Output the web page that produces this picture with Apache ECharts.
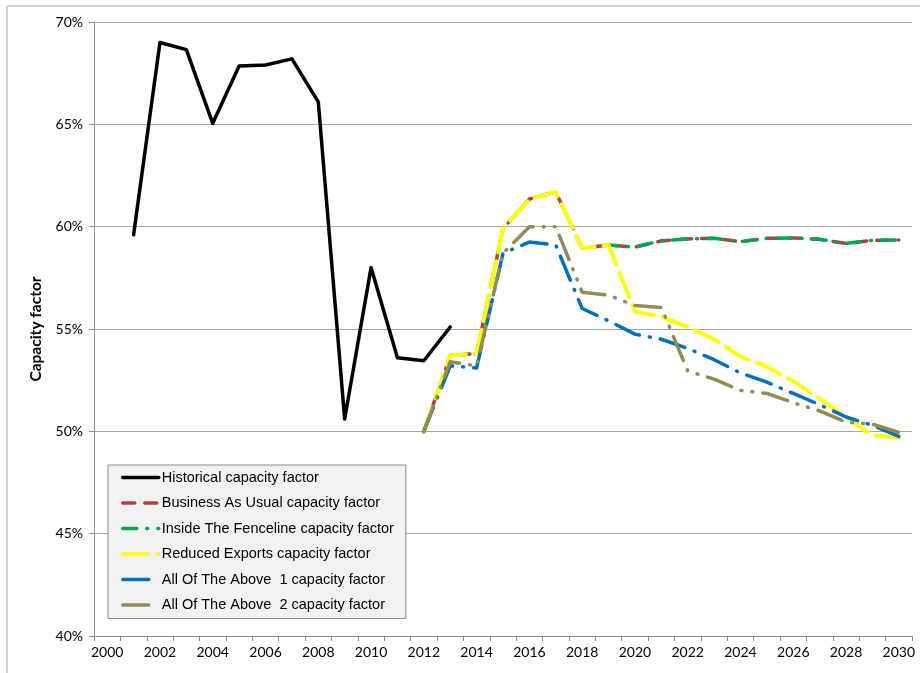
<!DOCTYPE html>
<html>
<head>
<meta charset="utf-8">
<script src="https://cdn.jsdelivr.net/npm/echarts@6/dist/echarts.min.js"></script>
<style>
  html, body { margin: 0; padding: 0; background: #fff; }
  #chart { width: 920px; height: 673px; }
</style>
</head>
<body>
<div id="chart"></div>
<script>
// years on the category axis
var years = [];
for (var y = 2000; y <= 2030; y++) years.push(String(y));

// values in percent, null where a series has no point
var historical = [null, 59.6, 69.0, 68.65, 65.05, 67.85, 67.9, 68.2, 66.1, 50.6, 58.0, 53.6, 53.45, 55.1,
  null, null, null, null, null, null, null, null, null, null, null, null, null, null, null, null, null];
var businessAsUsual = [null, null, null, null, null, null, null, null, null, null, null, null,
  50.0, 53.7, 53.8, 59.9, 61.35, 61.7, 58.95, 59.1, 59.0, 59.3, 59.4, 59.43, 59.27, 59.43, 59.45, 59.38, 59.18, 59.33, 59.35];
var insideFenceline = [null, null, null, null, null, null, null, null, null, null, null, null,
  50.0, 53.7, 53.8, 59.9, 61.35, 61.7, 58.95, 59.1, 59.0, 59.32, 59.4, 59.43, 59.27, 59.43, 59.45, 59.38, 59.18, 59.33, 59.35];
var reducedExports = [null, null, null, null, null, null, null, null, null, null, null, null,
  50.0, 53.7, 53.8, 59.9, 61.35, 61.7, 58.95, 59.1, 55.85, 55.6, 55.1, 54.5, 53.65, 53.15, 52.45, 51.6, 50.7, 49.8, 49.7];
var allAbove1 = [null, null, null, null, null, null, null, null, null, null, null, null,
  50.0, 53.2, 53.1, 58.7, 59.25, 59.1, 56.0, 55.4, 54.75, 54.5, 54.05, 53.5, 52.85, 52.4, 51.85, 51.3, 50.7, 50.3, 49.75];
var allAbove2 = [null, null, null, null, null, null, null, null, null, null, null, null,
  50.0, 53.4, 53.2, 58.7, 60.0, 60.0, 56.8, 56.65, 56.15, 56.05, 52.95, 52.55, 52.0, 51.85, 51.4, 51.0, 50.45, 50.35, 49.95];

var yTicks = [40, 45, 50, 55, 60, 65, 70];

var chart = echarts.init(document.getElementById('chart'));

function lineSeries(name, data, color, dash, width) {
  return {
    name: name,
    type: 'line',
    data: data,
    symbol: 'none',
    connectNulls: false,
    animation: false,
    lineStyle: { color: color, width: width, type: dash, cap: 'round', join: 'round' },
    itemStyle: { color: color }
  };
}

var option = {
  animation: false,
  textStyle: { fontFamily: 'Lato, "Liberation Sans", sans-serif' },
  graphic: [{
    type: 'rect',
    shape: { x: 7, y: 6, width: 940, height: 700 },
    style: { fill: 'none', stroke: '#a6a6a6', lineWidth: 1 },
    silent: true
  }],
  grid: { left: 94, right: 8, top: 22, bottom: 37 },
  legend: {
    orient: 'vertical',
    left: 108,
    top: 465,
    backgroundColor: '#f2f2f2',
    borderColor: '#8c8c8c',
    borderWidth: 1,
    padding: [5, 12, 6, 13],
    itemWidth: 36,
    itemHeight: 12,
    itemGap: 10.5,
    itemStyle: { opacity: 0 },
    lineStyle: { width: 3.5 },
    textStyle: { fontSize: 14.5, color: '#000', fontFamily: '"Liberation Sans", sans-serif', padding: [0, 0, 0, -2] },
    data: ['Historical capacity factor', 'Business As Usual capacity factor', 'Inside The Fenceline capacity factor',
      'Reduced Exports capacity factor', 'All Of The Above  1 capacity factor', 'All Of The Above  2 capacity factor']
  },
  xAxis: {
    type: 'category',
    data: years,
    boundaryGap: true,
    axisLine: { lineStyle: { color: '#8c8c8c' } },
    axisTick: { show: true, interval: 0, length: 5, lineStyle: { color: '#8c8c8c' } },
    axisLabel: { interval: 1, color: '#000', fontSize: 14, margin: 9 },
    splitLine: { show: false }
  },
  yAxis: {
    type: 'value',
    min: yTicks[0],
    max: yTicks[yTicks.length - 1],
    interval: 5,
    name: 'Capacity factor',
    nameLocation: 'middle',
    nameGap: 50,
    nameTextStyle: { fontSize: 15.5, fontWeight: 'bold', color: '#000' },
    axisLine: { show: true, lineStyle: { color: '#8c8c8c' } },
    axisTick: { show: true, length: 5, lineStyle: { color: '#8c8c8c' } },
    axisLabel: { formatter: '{value}%', color: '#000', fontSize: 14, margin: 11 },
    splitLine: { lineStyle: { color: '#a6a6a6', width: 1 } }
  },
  series: [
    lineSeries('Historical capacity factor', historical, '#000000', 'solid', 3.5),
    lineSeries('Business As Usual capacity factor', businessAsUsual, '#b0413e', [12, 10], 3.5),
    lineSeries('Inside The Fenceline capacity factor', insideFenceline, '#00a651', [14, 10, 1, 10], 3.5),
    lineSeries('Reduced Exports capacity factor', reducedExports, '#ffff00', [26, 9], 4),
    lineSeries('All Of The Above  1 capacity factor', allAbove1, '#0070c0', [26, 10, 1, 10], 3.5),
    lineSeries('All Of The Above  2 capacity factor', allAbove2, '#948a54', [26, 10, 1, 10, 1, 10], 3.5)
  ]
};

chart.setOption(option);
</script>
</body>
</html>
